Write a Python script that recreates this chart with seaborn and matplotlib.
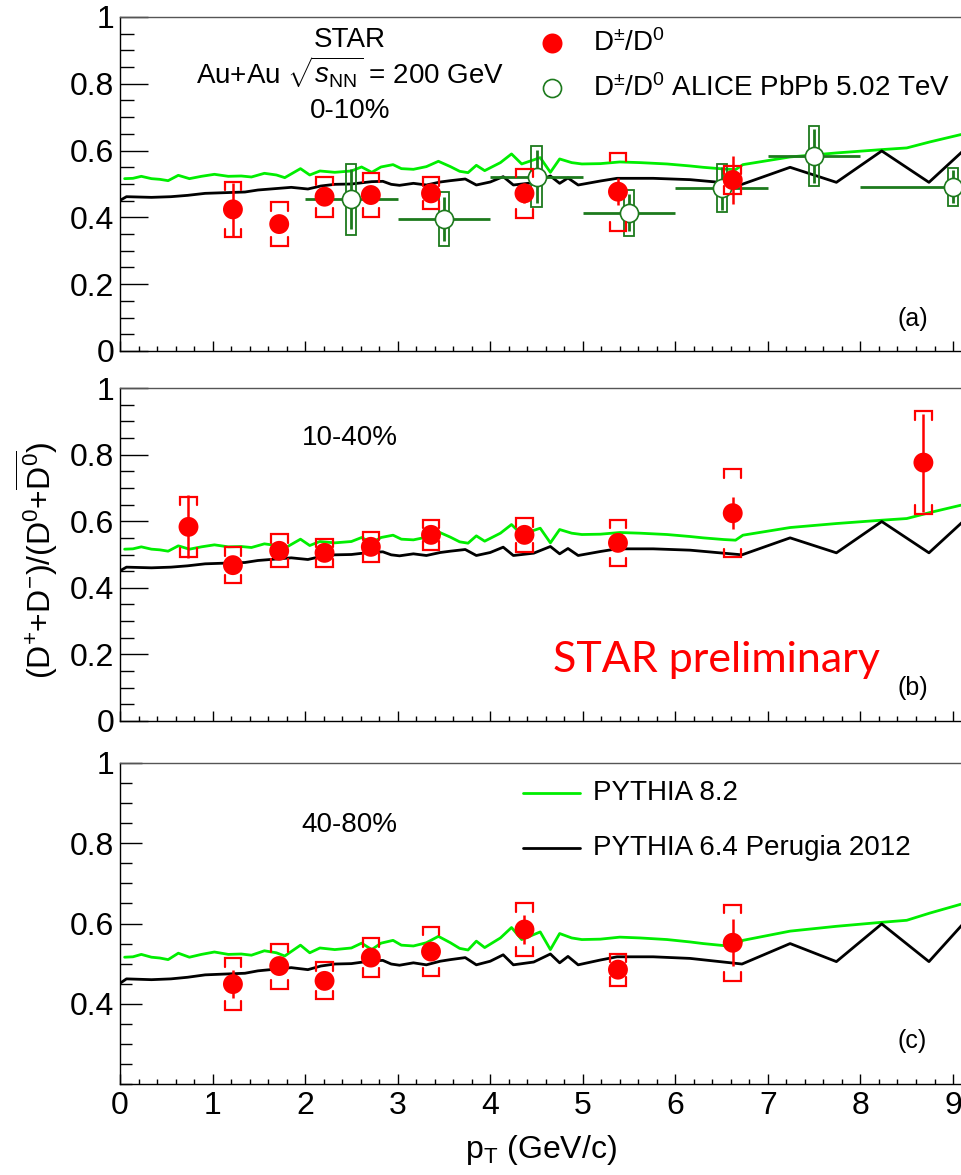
import numpy as np
import pandas as pd
import matplotlib
matplotlib.use("Agg")
import matplotlib.pyplot as plt
import seaborn as sns
from matplotlib.ticker import MultipleLocator, FixedLocator, FuncFormatter

sns.set_style("ticks")
plt.rcParams["font.family"] = ["Liberation Sans", "DejaVu Sans"]
plt.rcParams["mathtext.fontset"] = "custom"
plt.rcParams["mathtext.rm"] = "Liberation Sans"
plt.rcParams["mathtext.it"] = "Liberation Sans:italic"
plt.rcParams["mathtext.bf"] = "Liberation Sans:bold"
for key in ("text.color", "axes.labelcolor", "xtick.color", "ytick.color", "axes.edgecolor"):
    plt.rcParams[key] = "black"

# ---------------- PYTHIA model curves (same in every centrality panel) ----------------
p8_pt = [0.05, 0.14, 0.23, 0.34, 0.43, 0.52, 0.63, 0.75, 0.88, 1.02, 1.17, 1.31, 1.42,
         1.56, 1.69, 1.78, 1.95, 2.05, 2.16, 2.32, 2.50, 2.61, 2.72, 2.82, 2.95, 3.04,
         3.17, 3.31, 3.44, 3.57, 3.67, 3.76, 3.85, 3.94, 4.11, 4.23, 4.34, 4.54, 4.65,
         4.75, 4.88, 4.99, 5.19, 5.40, 5.62, 5.91, 6.16, 6.30, 6.52, 6.65, 6.73, 7.24,
         7.74, 8.23, 8.50, 8.75, 9.10]
p8_ratio = [0.516, 0.517, 0.523, 0.516, 0.514, 0.510, 0.526, 0.516, 0.523, 0.529, 0.523,
            0.524, 0.521, 0.532, 0.527, 0.519, 0.546, 0.527, 0.539, 0.535, 0.539, 0.551,
            0.535, 0.551, 0.558, 0.546, 0.544, 0.552, 0.568, 0.552, 0.538, 0.534, 0.556,
            0.540, 0.564, 0.590, 0.560, 0.579, 0.535, 0.575, 0.564, 0.560, 0.561, 0.566,
            0.564, 0.560, 0.554, 0.550, 0.545, 0.543, 0.558, 0.581, 0.593, 0.603, 0.608,
            0.626, 0.649]

p6_pt = [0.00, 0.07, 0.34, 0.55, 0.73, 0.92, 1.13, 1.35, 1.49, 1.67, 1.85, 2.03, 2.17,
         2.32, 2.50, 2.72, 2.84, 2.93, 3.02, 3.17, 3.31, 3.46, 3.57, 3.73, 3.85, 4.00,
         4.14, 4.25, 4.47, 4.65, 4.75, 4.84, 4.95, 5.19, 5.37, 5.76, 6.16, 6.52, 6.72,
         7.24, 7.74, 8.23, 8.74, 9.10]
p6_ratio = [0.451, 0.462, 0.460, 0.462, 0.466, 0.472, 0.474, 0.476, 0.482, 0.486, 0.490,
            0.485, 0.494, 0.499, 0.500, 0.507, 0.508, 0.499, 0.496, 0.502, 0.497, 0.506,
            0.510, 0.515, 0.497, 0.506, 0.522, 0.497, 0.504, 0.524, 0.502, 0.518, 0.497,
            0.509, 0.517, 0.517, 0.513, 0.504, 0.499, 0.550, 0.505, 0.599, 0.505, 0.597]

# ---------------- STAR D+-/D0, 0-10% ----------------
star_a_pt = [1.22, 1.72, 2.21, 2.71, 3.36, 4.37, 5.38, 6.62]
star_a_val = [0.424, 0.380, 0.462, 0.467, 0.472, 0.472, 0.477, 0.512]
star_a_stat = [0.080, 0.020, 0.020, 0.020, 0.020, 0.030, 0.040, 0.072]
star_a_sys = [0.083, 0.065, 0.060, 0.065, 0.048, 0.073, 0.117, 0.042]

# ---------------- ALICE Pb-Pb 5.02 TeV, 0-10% ----------------
alice_pt = [2.5, 3.5, 4.5, 5.5, 6.5, 7.5, 9.0]
alice_halfbin = [0.5, 0.5, 0.5, 0.5, 0.5, 0.5, 1.0]
alice_val = [0.454, 0.395, 0.522, 0.414, 0.487, 0.584, 0.492]
alice_stat = [0.090, 0.065, 0.080, 0.055, 0.065, 0.080, 0.050]
alice_sys = [0.107, 0.080, 0.092, 0.069, 0.072, 0.091, 0.057]

# ---------------- STAR D+-/D0, 10-40% ----------------
star_b_pt = [0.74, 1.22, 1.72, 2.21, 2.71, 3.36, 4.37, 5.38, 6.62, 8.68]
star_b_val = [0.583, 0.468, 0.511, 0.505, 0.523, 0.559, 0.559, 0.535, 0.624, 0.776]
star_b_stat = [0.095, 0.020, 0.020, 0.015, 0.015, 0.020, 0.020, 0.025, 0.048, 0.147]
star_b_sys = [0.090, 0.054, 0.050, 0.043, 0.045, 0.045, 0.050, 0.070, 0.132, 0.154]

# ---------------- STAR D+-/D0, 40-80% ----------------
star_c_pt = [1.22, 1.72, 2.21, 2.71, 3.36, 4.37, 5.38, 6.62]
star_c_val = [0.449, 0.494, 0.457, 0.515, 0.530, 0.585, 0.485, 0.552]
star_c_stat = [0.035, 0.020, 0.020, 0.020, 0.020, 0.035, 0.020, 0.058]
star_c_sys = [0.064, 0.056, 0.046, 0.048, 0.062, 0.065, 0.040, 0.095]

x_ticks = [0, 1, 2, 3, 4, 5, 6, 7, 8, 9]

RED = "#ff0000"
ALICE_GREEN = "#1d7a1d"
P8_GREEN = "#00ee00"

W, H = 962, 1175
fig = plt.figure(figsize=(W / 100, H / 100), dpi=100)

panels = [
    dict(top=17, bottom=351, ylim=(0.0, 1.0)),
    dict(top=388, bottom=721, ylim=(0.0, 1.0)),
    dict(top=763, bottom=1084, ylim=(0.2, 1.0)),
]
left_px = 120
XMAX = 9.097

axes = []
for i, p in enumerate(panels):
    ax = fig.add_axes([left_px / W, 1 - p["bottom"] / H, 1 - left_px / W,
                       (p["bottom"] - p["top"]) / H])
    ax.set_xlim(0, XMAX)
    ax.set_ylim(*p["ylim"])
    p["hpx"] = p["bottom"] - p["top"]
    axes.append(ax)


def fmt(v, _):
    if abs(v - round(v)) < 1e-9:
        return f"{int(round(v))}"
    return f"{v:g}"


for i, ax in enumerate(axes):
    p = panels[i]
    ax.xaxis.set_major_locator(FixedLocator(x_ticks))
    ax.xaxis.set_minor_locator(MultipleLocator(0.2))
    if i == 2:
        ax.yaxis.set_major_locator(FixedLocator([0.4, 0.6, 0.8, 1.0]))
        ax.yaxis.set_minor_locator(MultipleLocator(0.05))
        ymaj, ymin = 15.6, 8.9
    else:
        ax.yaxis.set_major_locator(FixedLocator([0, 0.2, 0.4, 0.6, 0.8, 1.0]))
        ax.yaxis.set_minor_locator(MultipleLocator(0.05))
        ymaj, ymin = 20, 10.3
    ax.yaxis.set_major_formatter(FuncFormatter(fmt))
    ax.xaxis.set_major_formatter(FuncFormatter(fmt))
    ax.tick_params(axis="y", which="major", direction="in", length=ymaj, width=1.0,
                   labelsize=23, pad=4, left=True, right=False, colors="black")
    ax.tick_params(axis="y", which="minor", direction="in", length=ymin, width=1.0,
                   left=True, right=False, colors="black")
    ax.tick_params(axis="x", which="major", direction="in", length=7.5, width=1.0,
                   labelsize=23, pad=5, bottom=True, top=False,
                   labelbottom=(i == 2), colors="black")
    ax.tick_params(axis="x", which="minor", direction="in", length=3.8, width=1.0,
                   bottom=True, top=False, colors="black")
    ax.spines["right"].set_visible(False)
    ax.spines["top"].set_color("#555555")
    for s in ("left", "bottom"):
        ax.spines[s].set_color("black")
    for s in ("left", "bottom", "top"):
        ax.spines[s].set_linewidth(1.0)

    # model curves
    sns.lineplot(data=pd.DataFrame({"pt": p8_pt, "r": p8_ratio}), x="pt", y="r",
                 ax=ax, color=P8_GREEN, lw=2.0, sort=False, estimator=None, zorder=2)
    sns.lineplot(data=pd.DataFrame({"pt": p6_pt, "r": p6_ratio}), x="pt", y="r",
                 ax=ax, color="black", lw=2.0, sort=False, estimator=None, zorder=2)
    ax.set_xlabel("")
    ax.set_ylabel("")


def star_points(ax, hpx, yrange, pt, val, stat, sys_):
    pt = np.asarray(pt); val = np.asarray(val)
    stat = np.asarray(stat); sys_ = np.asarray(sys_)
    hw = 0.09
    leg = 8.5 / hpx * yrange
    for x, y, s in zip(pt, val, sys_):
        ax.plot([x - hw, x - hw, x + hw, x + hw], [y + s - leg, y + s, y + s, y + s - leg],
                color=RED, lw=1.6, zorder=4, solid_joinstyle="miter")
        ax.plot([x - hw, x - hw, x + hw, x + hw], [y - s + leg, y - s, y - s, y - s + leg],
                color=RED, lw=1.6, zorder=4, solid_joinstyle="miter")
    ax.errorbar(pt, val, yerr=stat, fmt="none", ecolor=RED, elinewidth=1.8,
                capsize=0, zorder=5)
    sns.scatterplot(x=pt, y=val, ax=ax, color=RED, s=205, edgecolor="none",
                    linewidth=0, zorder=6, legend=False)


def alice_points(ax):
    pt = np.asarray(alice_pt); val = np.asarray(alice_val)
    hb = np.asarray(alice_halfbin)
    bw = 0.055
    ax.hlines(val, pt - hb, pt + hb, color=ALICE_GREEN, lw=2.0, zorder=3)
    ax.vlines(pt, val - np.asarray(alice_stat), val + np.asarray(alice_stat),
              color=ALICE_GREEN, lw=2.0, zorder=3)
    for x, y, s in zip(pt, val, alice_sys):
        ax.add_patch(plt.Rectangle((x - bw, y - s), 2 * bw, 2 * s, fill=False,
                                   edgecolor=ALICE_GREEN, lw=1.3, zorder=3))
    sns.scatterplot(x=pt, y=val, ax=ax, color="white", s=170, edgecolor=ALICE_GREEN,
                    linewidth=1.2, zorder=4, legend=False)


alice_points(axes[0])
star_points(axes[0], panels[0]["hpx"], 1.0, star_a_pt, star_a_val, star_a_stat, star_a_sys)
star_points(axes[1], panels[1]["hpx"], 1.0, star_b_pt, star_b_val, star_b_stat, star_b_sys)
star_points(axes[2], panels[2]["hpx"], 0.8, star_c_pt, star_c_val, star_c_stat, star_c_sys)

# ---------------- annotations ----------------
ax = axes[0]
ax.text(0.273, 0.931, "STAR", transform=ax.transAxes, ha="center", va="center", fontsize=20)
ax.text(0.273, 0.835, r"Au+Au $\sqrt{s_{\mathrm{NN}}}$ = 200 GeV", transform=ax.transAxes,
        ha="center", va="center", fontsize=20)
ax.text(0.273, 0.719, "0-10%", transform=ax.transAxes, ha="center", va="center", fontsize=20)
ax.plot([0.513], [0.922], "o", transform=ax.transAxes, color=RED, ms=14.4, mec="none",
        clip_on=False)
ax.text(0.562, 0.922, r"D$^{\pm}$/D$^{0}$", transform=ax.transAxes, ha="left", va="center",
        fontsize=20)
ax.plot([0.513], [0.787], "o", transform=ax.transAxes, mfc="white", mec=ALICE_GREEN,
        mew=1.2, ms=13, clip_on=False)
ax.text(0.562, 0.787, r"D$^{\pm}$/D$^{0}$ ALICE PbPb 5.02 TeV", transform=ax.transAxes,
        ha="left", va="center", fontsize=20)
ax.text(0.941, 0.096, "(a)", transform=ax.transAxes, ha="center", va="center", fontsize=18)

ax = axes[1]
ax.text(0.273, 0.850, "10-40%", transform=ax.transAxes, ha="center", va="center", fontsize=20)
ax.text(0.514, 0.147, "STAR preliminary", transform=ax.transAxes, ha="left", va="baseline",
        fontsize=31, color=RED, family=["Lato", "DejaVu Sans"])
ax.text(0.941, 0.099, "(b)", transform=ax.transAxes, ha="center", va="center", fontsize=18)

ax = axes[2]
ax.text(0.273, 0.807, "40-80%", transform=ax.transAxes, ha="center", va="center", fontsize=20)
ax.plot([0.479, 0.546], [0.907, 0.907], transform=ax.transAxes, color=P8_GREEN, lw=2.0)
ax.text(0.562, 0.907, "PYTHIA 8.2", transform=ax.transAxes, ha="left", va="center", fontsize=20)
ax.plot([0.479, 0.546], [0.735, 0.735], transform=ax.transAxes, color="black", lw=2.0)
ax.text(0.562, 0.735, "PYTHIA 6.4 Perugia 2012", transform=ax.transAxes, ha="left",
        va="center", fontsize=20)
ax.text(0.941, 0.134, "(c)", transform=ax.transAxes, ha="center", va="center", fontsize=18)

fig.text(541 / W, 1 - 1150 / H, r"p$_{\mathrm{T}}$ (GeV/c)", ha="center", va="center",
         fontsize=23)
fig.text(37 / W, 1 - 560 / H,
         r"(D$^{+}$+D$^{-}$)/(D$^{0}$+$\overline{\mathrm{D}^{0}}$)",
         rotation=90, ha="center", va="center", fontsize=23)

fig.savefig("out.png", dpi=100)
